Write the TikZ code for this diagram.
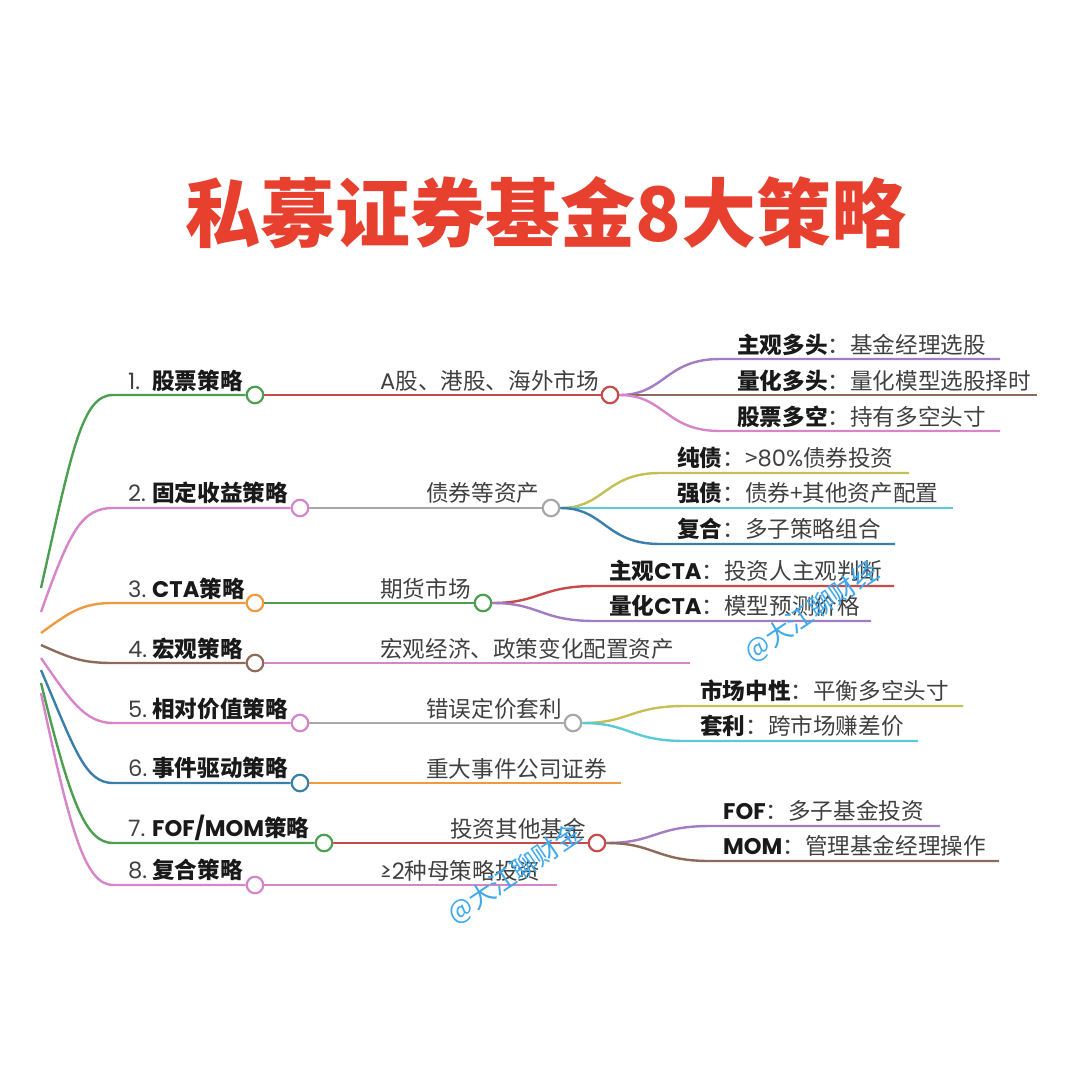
\documentclass[tikz,border=0pt]{standalone}
\usepackage{fontspec}
\setmainfont{Noto Sans CJK SC}
\newfontfamily\latf{Poppins}
\usepackage{tikz}
\definecolor{cgreen}{HTML}{4C9F50}
\definecolor{cred}{HTML}{C84B4B}
\definecolor{cpink}{HTML}{D685C8}
\definecolor{cgray}{HTML}{A8A8A8}
\definecolor{corange}{HTML}{EE9A3F}
\definecolor{cbrown}{HTML}{8C6A5C}
\definecolor{cblue}{HTML}{3A7FAB}
\definecolor{cpurple}{HTML}{A37CC4}
\definecolor{colive}{HTML}{C4C056}
\definecolor{ccyan}{HTML}{5CC9D6}
\definecolor{ctitle}{HTML}{E8402F}
\definecolor{cmark}{HTML}{3FA9EC}
\definecolor{ctext}{HTML}{404040}
\newcommand{\stitle}[2]{\textbf{\color{black!90}#1}：#2}
\newcommand{\mtitle}[2]{\makebox[24pt][l]{\latf #1.}\textbf{\color{black!90}#2}}
\begin{document}
\begin{tikzpicture}[
 x=1pt,y=-1pt,
 txt/.style={
      anchor=west,
      inner sep=0pt,
      text=ctext,
      font=\fontsize{22.6}{22.6}\selectfont
   },
 dot/.style={
      circle,
      draw=#1,
      line width=2.2pt,
      fill=white,
      inner sep=0pt,
      minimum size=16.5pt
   },
 wire/.style={
      draw=#1,
      line width=2.4pt
   },
 stamp/.style={
      text=cmark,
      inner sep=0pt,
      rotate=34,
      font=\fontsize{26}{26}\selectfont
   }
 ]
 \useasboundingbox (0,0) rectangle (1078,1087);
 %title
 \node[text=ctitle,inner sep=0pt,font=\fontsize{75}{75}\selectfont\bfseries] (title) at (546,213) {私募证券基金8大策略};

 %main points
 \node[dot=cgreen] (c1) at (255,395) {};
 \node[dot=cpink] (c2) at (300,508) {};
 \node[dot=corange] (c3) at (255,603) {};
 \node[dot=cbrown] (c4) at (255,663) {};
 \node[dot=cpink] (c5) at (300,723) {};
 \node[dot=cblue] (c6) at (300,783) {};
 \node[dot=cgreen] (c7) at (324,843) {};
 \node[dot=cpink] (c8) at (255,885) {};

 %second points
 \node[dot=cred] (d1) at (610,395) {};
 \node[dot=cgray] (d2) at (551,508) {};
 \node[dot=cgreen] (d3) at (483,603) {};
 \node[dot=cgray] (d5) at (573,723) {};
 \node[dot=cred] (d7) at (597,843) {};

 %free ends
 \coordinate (r1) at (41,588);
 \coordinate (r2) at (41,612);
 \coordinate (r3) at (41,633);
 \coordinate (r4) at (41,645);
 \coordinate (r5) at (41,658);
 \coordinate (r6) at (41,670);
 \coordinate (r7) at (41,683);
 \coordinate (r8) at (41,693);
 \coordinate (e4) at (690,663);
 \coordinate (e6) at (621,783);
 \coordinate (e8) at (557,885);
 \coordinate (e11) at (1000,359);
 \coordinate (e12) at (1037,395);
 \coordinate (e13) at (1000,431);
 \coordinate (e21) at (909,473);
 \coordinate (e22) at (953,508);
 \coordinate (e23) at (895,544);
 \coordinate (e31) at (894,586);
 \coordinate (e32) at (871,621);
 \coordinate (e51) at (963,706);
 \coordinate (e52) at (918,741);
 \coordinate (e71) at (940,826);
 \coordinate (e72) at (999,861);

 %main branches
 \draw[wire=cgreen] (r1) .. controls (72,450) and (82,395) .. (113,395) -- (c1);
 \draw[wire=cpink] (r2) .. controls (70,530) and (82,508) .. (113,508) -- (c2);
 \draw[wire=corange] (r3) .. controls (70,612) and (82,603) .. (113,603) -- (c3);
 \draw[wire=cbrown] (r4) .. controls (70,658) and (82,663) .. (113,663) -- (c4);
 \draw[wire=cpink] (r5) .. controls (70,700) and (85,723) .. (113,723) -- (c5);
 \draw[wire=cblue] (r6) .. controls (75,750) and (85,783) .. (113,783) -- (c6);
 \draw[wire=cgreen] (r7) .. controls (70,800) and (85,843) .. (113,843) -- (c7);
 \draw[wire=cpink] (r8) .. controls (70,830) and (85,885) .. (113,885) -- (c8);

 %second branches
 \draw[wire=cred] (c1) -- (d1);
 \draw[wire=cgray] (c2) -- (d2);
 \draw[wire=cgreen] (c3) -- (d3);
 \draw[wire=cpink] (c4) -- (e4);
 \draw[wire=cgray] (c5) -- (d5);
 \draw[wire=corange] (c6) -- (e6);
 \draw[wire=cred] (c7) -- (d7);
 \draw[wire=cpink] (c8) -- (e8);

 %third branches
 \draw[wire=cpurple] (d1) .. controls (665,395) and (665,359) .. (720,359) -- (e11);
 \draw[wire=cbrown] (d1) -- (e12);
 \draw[wire=cpink] (d1) .. controls (665,395) and (665,431) .. (720,431) -- (e13);
 \draw[wire=colive] (d2) .. controls (605,508) and (605,473) .. (660,473) -- (e21);
 \draw[wire=ccyan] (d2) -- (e22);
 \draw[wire=cblue] (d2) .. controls (605,508) and (605,544) .. (660,544) -- (e23);
 \draw[wire=cred] (d3) .. controls (540,603) and (540,586) .. (595,586) -- (e31);
 \draw[wire=cpurple] (d3) .. controls (540,603) and (540,621) .. (595,621) -- (e32);
 \draw[wire=colive] (d5) .. controls (630,723) and (630,706) .. (685,706) -- (e51);
 \draw[wire=ccyan] (d5) .. controls (630,723) and (630,741) .. (685,741) -- (e52);
 \draw[wire=cpurple] (d7) .. controls (655,843) and (655,826) .. (710,826) -- (e71);
 \draw[wire=cbrown] (d7) .. controls (655,843) and (655,861) .. (710,861) -- (e72);

 %main labels
 \node[txt] (a1) at (128,381) {\mtitle{1}{股票策略}};
 \node[txt] (a2) at (128,493) {\mtitle{2}{固定收益策略}};
 \node[txt] (a3) at (128,589) {\mtitle{3}{{\latf CTA}策略}};
 \node[txt] (a4) at (128,649) {\mtitle{4}{宏观策略}};
 \node[txt] (a5) at (128,709) {\mtitle{5}{相对价值策略}};
 \node[txt] (a6) at (128,768) {\mtitle{6}{事件驱动策略}};
 \node[txt] (a7) at (128,828) {\mtitle{7}{{\latf FOF/MOM}策略}};
 \node[txt] (a8) at (128,870) {\mtitle{8}{复合策略}};

 %second labels
 \node[txt] (b1) at (380,381) {{\latf A}股、港股、海外市场};
 \node[txt] (b2) at (426,493) {债券等资产};
 \node[txt] (b3) at (380,589) {期货市场};
 \node[txt] (b4) at (380,649) {宏观经济、政策变化配置资产};
 \node[txt] (b5) at (426,709) {错误定价套利};
 \node[txt] (b6) at (426,769) {重大事件公司证券};
 \node[txt] (b7) at (450,829) {投资其他基金};
 \node[txt] (b8) at (380,871) {{\latf ≥2}种母策略投资};

 %third labels
 \node[txt] (t11) at (737,345) {\stitle{主观多头}{基金经理选股}};
 \node[txt] (t12) at (737,381) {\stitle{量化多头}{量化模型选股择时}};
 \node[txt] (t13) at (737,417) {\stitle{股票多空}{持有多空头寸}};
 \node[txt] (t21) at (677,458) {\stitle{纯债}{>{\latf 80\%}债券投资}};
 \node[txt] (t22) at (677,493) {\stitle{强债}{债券+其他资产配置}};
 \node[txt] (t23) at (677,529) {\stitle{复合}{多子策略组合}};
 \node[txt] (t31) at (609,571) {\stitle{主观{\latf CTA}}{投资人主观判断}};
 \node[txt] (t32) at (609,606) {\stitle{量化{\latf CTA}}{模型预测价格}};
 \node[txt] (t51) at (700,691) {\stitle{市场中性}{平衡多空头寸}};
 \node[txt] (t52) at (700,726) {\stitle{套利}{跨市场赚差价}};
 \node[txt] (t71) at (723,811) {\stitle{{\latf FOF}}{多子基金投资}};
 \node[txt] (t72) at (723,846) {\stitle{{\latf MOM}}{管理基金经理操作}};

 %watermarks
 \node[stamp] (m1) at (812,612) {@大江聊财经};
 \node[stamp] (m2) at (515,874) {@大江聊财金};
\end{tikzpicture}
\end{document}
